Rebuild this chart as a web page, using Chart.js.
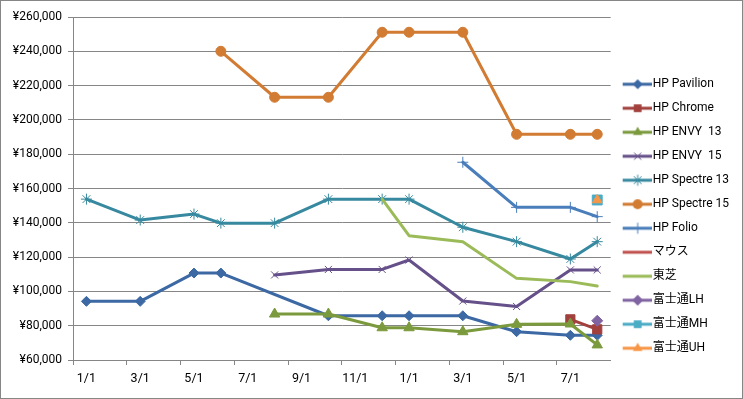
<!DOCTYPE html>
<html><head><meta charset="utf-8">
<script src="https://cdn.jsdelivr.net/npm/chart.js@4/dist/chart.umd.min.js"></script>
<style>
html,body{margin:0;padding:0;background:#fff;}
#wrap{width:743px;height:399px;box-sizing:border-box;border:1px solid #868686;background:#fff;}
canvas{display:block;}
</style></head><body>
<div id="wrap"><canvas id="c" width="741" height="397"></canvas></div>
<script>
// Months (category slots) from 1/1 of year 1 to 8/1 of year 2
const categories = ['1/1','2/1','3/1','4/1','5/1','6/1','7/1','8/1','9/1','10/1','11/1','12/1',
                    '1/1','2/1','3/1','4/1','5/1','6/1','7/1','8/1'];
const yTicks = [60000, 80000, 100000, 120000, 140000, 160000, 180000, 200000, 220000, 240000, 260000];

const seriesNames = ['HP Pavilion','HP Chrome','HP ENVY  13','HP ENVY  15','HP Spectre 13','HP Spectre 15','HP Folio','マウス','東芝','富士通LH','富士通MH','富士通UH'];

const hpPavilion  = [94200,null,94200,null,110700,110700,null,null,null,85800,null,85800,85800,null,85800,null,76500,null,74400,74400];
const hpChrome    = [null,null,null,null,null,null,null,null,null,null,null,null,null,null,null,null,null,null,83700,77900];
const hpEnvy13    = [null,null,null,null,null,null,null,86800,null,86800,null,78800,78800,null,76500,null,80800,null,81000,68800];
const hpEnvy15    = [null,null,null,null,null,null,null,109600,null,112800,null,112800,118300,null,94400,null,91200,null,112500,112500];
const hpSpectre13 = [153800,null,141600,null,145100,139800,null,139800,null,153800,null,153800,153800,null,137400,null,129000,null,118900,129000];
const hpSpectre15 = [null,null,null,null,null,240000,null,213200,null,213200,null,251100,251100,null,251100,null,191600,null,191600,191600];
const hpFolio     = [null,null,null,null,null,null,null,null,null,null,null,null,null,null,175300,null,149000,null,149000,143600];
const mouse       = [null,null,null,null,null,null,null,null,null,null,null,null,null,null,null,null,null,null,null,null];
const toshiba     = [null,null,null,null,null,null,null,null,null,null,null,153800,132500,null,129000,null,107600,null,105700,103100];
const fujitsuLH   = [null,null,null,null,null,null,null,null,null,null,null,null,null,null,null,null,null,null,null,82900];
const fujitsuMH   = [null,null,null,null,null,null,null,null,null,null,null,null,null,null,null,null,null,null,null,153300];
const fujitsuUH   = [null,null,null,null,null,null,null,null,null,null,null,null,null,null,null,null,null,null,null,153300];

const seriesData = [hpPavilion,hpChrome,hpEnvy13,hpEnvy15,hpSpectre13,hpSpectre15,hpFolio,mouse,toshiba,fujitsuLH,fujitsuMH,fujitsuUH];
const colors  = ['#3C68A3','#A2403D','#7B9A3D','#66508A','#37899F','#D27B33','#4A7EBB','#C0504D','#9BBB59','#8064A2','#4BACC6','#F79646'];
const markers = ['rectRot','rect','triangle','crossRot','star','circle','cross',false,false,'rectRot','rect','triangle'];
const radii   = [5,6.5,6,5,5.5,5,5.5,0,0,5.5,7,5.5];

function drawMarker(ctx, style, x, y, r, color) {
  ctx.save();
  ctx.fillStyle = color; ctx.strokeStyle = color; ctx.lineWidth = 1;
  ctx.beginPath();
  if (style === 'rectRot') { ctx.moveTo(x, y - r); ctx.lineTo(x + r, y); ctx.lineTo(x, y + r); ctx.lineTo(x - r, y); ctx.closePath(); ctx.fill(); }
  else if (style === 'rect') { const s = r * Math.SQRT1_2; ctx.rect(x - s, y - s, 2 * s, 2 * s); ctx.fill(); }
  else if (style === 'triangle') { ctx.moveTo(x, y - r); ctx.lineTo(x + r * 0.866, y + r * 0.5); ctx.lineTo(x - r * 0.866, y + r * 0.5); ctx.closePath(); ctx.fill(); }
  else if (style === 'circle') { ctx.arc(x, y, r, 0, Math.PI * 2); ctx.fill(); }
  else if (style === 'crossRot') { const s = r * 0.707; ctx.moveTo(x - s, y - s); ctx.lineTo(x + s, y + s); ctx.moveTo(x + s, y - s); ctx.lineTo(x - s, y + s); ctx.stroke(); }
  else if (style === 'cross') { ctx.moveTo(x, y - r); ctx.lineTo(x, y + r); ctx.moveTo(x - r, y); ctx.lineTo(x + r, y); ctx.stroke(); }
  else if (style === 'star') { const s = r * 0.707; ctx.moveTo(x, y - r); ctx.lineTo(x, y + r); ctx.moveTo(x - r, y); ctx.lineTo(x + r, y); ctx.moveTo(x - s, y - s); ctx.lineTo(x + s, y + s); ctx.moveTo(x + s, y - s); ctx.lineTo(x - s, y + s); ctx.stroke(); }
  ctx.restore();
}

const legendIcons = seriesNames.map((n, i) => {
  const cv = document.createElement('canvas');
  cv.width = 34; cv.height = 14;
  const g = cv.getContext('2d');
  g.strokeStyle = colors[i]; g.lineWidth = 3; g.lineCap = 'butt';
  g.beginPath(); g.moveTo(5, 7); g.lineTo(34, 7); g.stroke();
  if (markers[i]) drawMarker(g, markers[i], 20, 7, Math.min(radii[i], 5.5), colors[i]);
  return cv;
});

const datasets = seriesNames.map((name, i) => ({
  label: name,
  data: seriesData[i],
  borderColor: colors[i],
  backgroundColor: colors[i],
  borderWidth: 3,
  borderCapStyle: 'round',
  borderJoinStyle: 'round',
  tension: 0,
  spanGaps: true,
  pointStyle: markers[i] || 'circle',
  pointRadius: markers[i] ? radii[i] : 0,
  pointHoverRadius: markers[i] ? radii[i] : 0,
  pointBackgroundColor: colors[i],
  pointBorderColor: colors[i],
  pointBorderWidth: 1,
  order: -i
}));

Chart.defaults.font.family = "Roboto, 'Noto Sans CJK JP', sans-serif";
Chart.defaults.font.size = 12;
Chart.defaults.color = '#000';

new Chart(document.getElementById('c'), {
  type: 'line',
  data: { labels: categories, datasets: datasets },
  options: {
    responsive: false,
    animation: false,
    devicePixelRatio: 1,
    layout: { padding: { left: 0, top: 16, right: 3, bottom: 8 } },
    plugins: {
      tooltip: { enabled: false },
      legend: {
        position: 'right',
        align: 'center',
        title: { display: true, text: '', font: { size: 12 }, padding: { top: 0, bottom: 11 } },
        labels: {
          usePointStyle: true,
          pointStyleWidth: 24,
          padding: 12,
          color: '#000',
          font: { size: 12 },
          sort: (a, b) => a.datasetIndex - b.datasetIndex,
          generateLabels: (chart) => {
            const items = Chart.defaults.plugins.legend.labels.generateLabels(chart);
            items.forEach(it => { it.pointStyle = legendIcons[it.datasetIndex]; });
            return items;
          }
        }
      }
    },
    scales: {
      x: {
        type: 'category',
        offset: true,
        afterFit: (s) => { s.height = 30; },
        grid: {
          offset: true,
          drawOnChartArea: false,
          drawTicks: true,
          tickLength: 5,
          color: (ctx) => (ctx.index % 2 === 0 ? '#868686' : 'rgba(0,0,0,0)'),
          tickColor: (ctx) => (ctx.index % 2 === 0 ? '#868686' : 'rgba(0,0,0,0)')
        },
        border: { color: '#868686', width: 1 },
        ticks: {
          autoSkip: false,
          maxRotation: 0,
          minRotation: 0,
          padding: 6,
          color: '#000',
          font: { size: 12.5 },
          callback: function (value, index) { return index % 2 === 0 ? categories[index] : ''; }
        }
      },
      y: {
        min: yTicks[0],
        max: yTicks[yTicks.length - 1],
        afterFit: (s) => { s.width = 72; },
        afterBuildTicks: (s) => { s.ticks = yTicks.map(v => ({ value: v })); },
        grid: { color: '#868686', tickLength: 5, lineWidth: 1 },
        border: { color: '#868686', width: 1 },
        ticks: {
          padding: 6,
          color: '#000',
          callback: (v) => '¥' + Number(v).toLocaleString('en-US')
        }
      }
    }
  }
});
</script>
</body></html>
